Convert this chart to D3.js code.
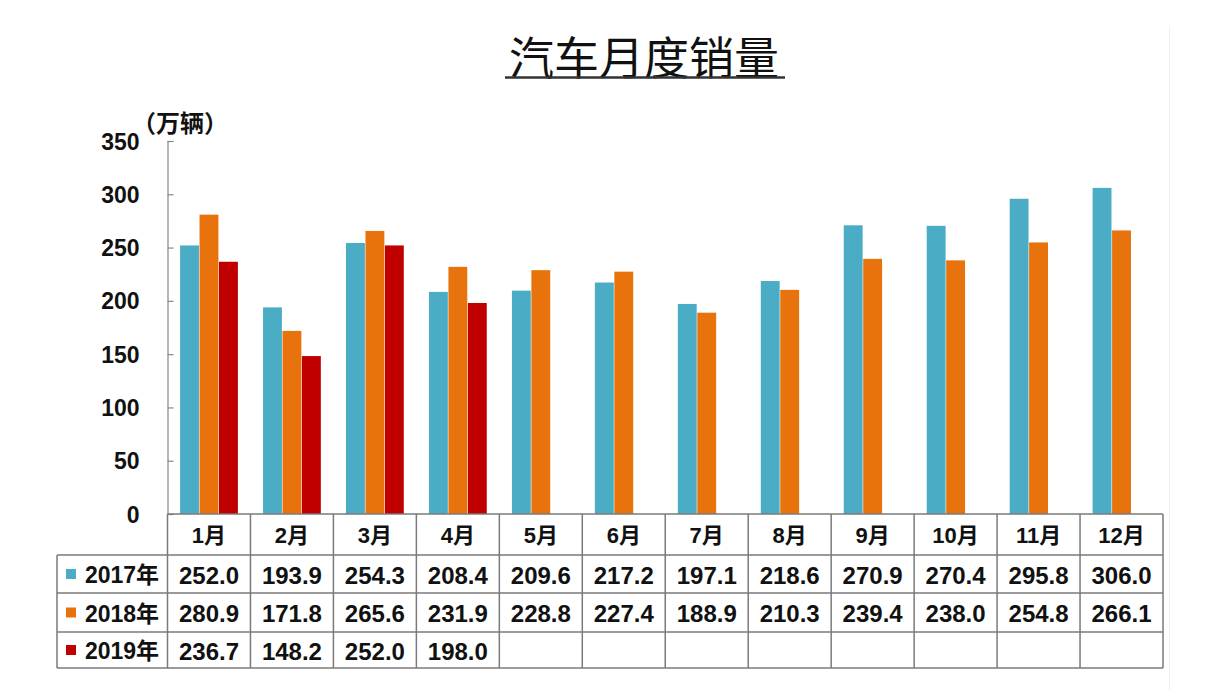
<!DOCTYPE html>
<html><head><meta charset="utf-8">
<script src="https://cdn.jsdelivr.net/npm/d3@7/dist/d3.min.js"></script>
<style>body{margin:0;background:#fff;} svg{display:block;}</style>
</head><body>
<svg id="c" width="1206" height="697"></svg>
<script>
const months = ["1月","2月","3月","4月","5月","6月","7月","8月","9月","10月","11月","12月"];
const seriesNames = ["2017年","2018年","2019年"];
const colors = ["#4bacc6","#e8730c","#c00000"];
const s2017 = [252.0,193.9,254.3,208.4,209.6,217.2,197.1,218.6,270.9,270.4,295.8,306.0];
const s2018 = [280.9,171.8,265.6,231.9,228.8,227.4,188.9,210.3,239.4,238.0,254.8,266.1];
const s2019 = [236.7,148.2,252.0,198.0];
const yTicks = [0,50,100,150,200,250,300,350];
const series = [s2017,s2018,s2019];

const svg = d3.select("#c");
const font = "'Liberation Sans','Noto Sans CJK SC',Arial,sans-serif";
const plotLeft = 167.5, plotRight = 1163, plotTop = 141, plotBottom = 514;

const x = d3.scaleBand().domain(months).range([plotLeft,plotRight]).paddingInner(0).paddingOuter(0);
const x1 = d3.scaleBand().domain(seriesNames).range([12, x.bandwidth()-12]).padding(0.03);
const y = d3.scaleLinear().domain([0,350]).range([plotBottom, plotTop]);

// faint right border
svg.append("line").attr("x1",1169.5).attr("x2",1169.5).attr("y1",27).attr("y2",690)
  .attr("stroke","#f0f0f0").attr("stroke-width",1);

// title
svg.append("text").attr("x",644).attr("y",55).attr("text-anchor","middle")
  .attr("dominant-baseline","central")
  .attr("font-family","'Noto Sans CJK SC',sans-serif").attr("font-size",45).attr("font-weight",400)
  .attr("fill","#111").text("汽车月度销量");
svg.append("line").attr("x1",505).attr("x2",785).attr("y1",77.5).attr("y2",77.5)
  .attr("stroke","#333").attr("stroke-width",2.5);

// unit label
svg.append("text").attr("x",180).attr("y",121).attr("text-anchor","middle")
  .attr("dominant-baseline","central")
  .attr("font-family","'Noto Sans CJK SC',sans-serif").attr("font-size",24).attr("font-weight",700)
  .attr("fill","#111").text("（万辆）");

// y axis
const yAxis = d3.axisLeft(y).tickValues(yTicks).tickSize(-6).tickPadding(28).tickFormat(d3.format("d"));
const ga = svg.append("g").attr("transform",`translate(${plotLeft},0)`).call(yAxis);
ga.select(".domain").attr("stroke","#888").attr("stroke-width",1.2);
ga.selectAll(".tick line").attr("stroke","#888").attr("stroke-width",1.2);
ga.selectAll(".tick text").attr("font-family",font).attr("font-size",23).attr("font-weight",700)
  .attr("fill","#111").attr("dy","0.35em");

// bars
series.forEach((vals,si)=>{
  svg.append("g").selectAll("rect").data(vals).join("rect")
    .attr("x",(d,i)=>x(months[i])+x1(seriesNames[si]))
    .attr("width",x1.bandwidth())
    .attr("y",d=>y(d))
    .attr("height",d=>y(0)-y(d))
    .attr("fill",colors[si]);
});

// table
const tableLeft = 57, rowY = [514, 555, 593, 632, 668];
const grid = svg.append("g").attr("stroke","#7a7a7a").attr("stroke-width",1.5).attr("fill","none");
grid.append("line").attr("x1",plotLeft).attr("x2",plotRight).attr("y1",rowY[0]).attr("y2",rowY[0]);
for (let r=1;r<rowY.length;r++){
  grid.append("line").attr("x1",tableLeft).attr("x2",plotRight).attr("y1",rowY[r]).attr("y2",rowY[r]);
}
grid.append("line").attr("x1",tableLeft).attr("x2",tableLeft).attr("y1",rowY[1]).attr("y2",rowY[4]);
const bounds = months.map(m=>x(m)).concat([plotRight]);
bounds.forEach(b=>{
  grid.append("line").attr("x1",b).attr("x2",b).attr("y1",rowY[0]).attr("y2",rowY[4]);
});

const tfont = (sel,size)=>sel.attr("font-family",font).attr("font-size",size).attr("font-weight",700)
  .attr("fill","#111").attr("text-anchor","middle").attr("dominant-baseline","central");

months.forEach(m=>{
  tfont(svg.append("text"),22).attr("x",x(m)+x.bandwidth()/2).attr("y",(rowY[0]+rowY[1])/2+1).text(m);
});
series.forEach((vals,si)=>{
  const cy = (rowY[si+1]+rowY[si+2])/2;
  svg.append("rect").attr("x",66).attr("y",cy-5).attr("width",10).attr("height",10).attr("fill",colors[si]);
  tfont(svg.append("text"),23).attr("x",122).attr("y",cy+1).text(seriesNames[si]);
  vals.forEach((v,i)=>{
    tfont(svg.append("text"),24).attr("x",x(months[i])+x.bandwidth()/2).attr("y",cy+1).text(v.toFixed(1));
  });
});
</script>
</body></html>
